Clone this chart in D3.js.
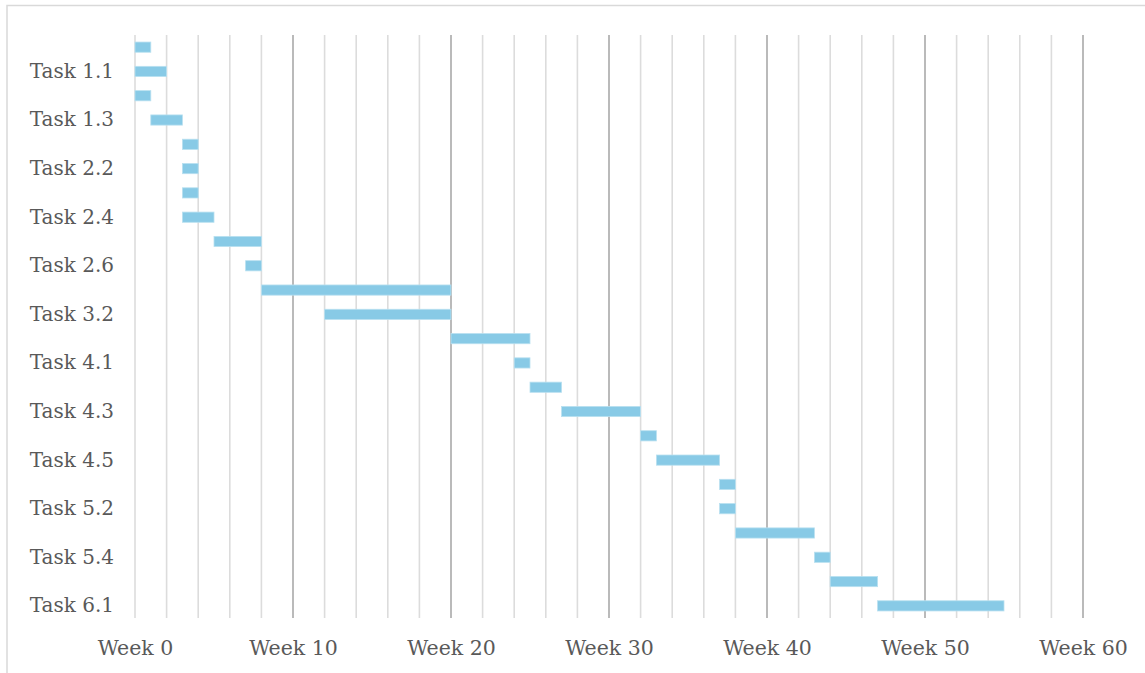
<!DOCTYPE html>
<html>
<head>
<meta charset="utf-8">
<script src="https://cdn.jsdelivr.net/npm/d3@7"></script>
<style>
  html, body { margin: 0; padding: 0; background: #ffffff; }
  svg { display: block; }
</style>
</head>
<body>
<div id="chart"></div>
<script>
// Project schedule: one row per task, bar from start week to end week
const tasks = [
  "Task 1.0", "Task 1.1", "Task 1.2", "Task 1.3",
  "Task 2.1", "Task 2.2", "Task 2.3", "Task 2.4", "Task 2.5", "Task 2.6",
  "Task 3.1", "Task 3.2", "Task 3.3",
  "Task 4.1", "Task 4.2", "Task 4.3", "Task 4.4", "Task 4.5",
  "Task 5.1", "Task 5.2", "Task 5.3", "Task 5.4", "Task 5.5",
  "Task 6.1"
];
const startWeek = [0, 0, 0, 1, 3, 3, 3, 3, 5, 7, 8, 12, 20, 24, 25, 27, 32, 33, 37, 37, 38, 43, 44, 47];
const endWeek   = [1, 2, 1, 3, 4, 4, 4, 5, 8, 8, 20, 20, 25, 25, 27, 32, 33, 37, 38, 38, 43, 44, 47, 55];
const majorTicks = [0, 10, 20, 30, 40, 50, 60];
const minorTicks = d3.range(0, 61, 2);
const tickLabel = w => "Week " + w;

const W = 1145, H = 673;
const plot = { left: 135, right: 1083, top: 35, bottom: 618 };
const font = "'DejaVu Serif', Georgia, serif";
const textColor = "#595959";

const svg = d3.select("#chart").append("svg")
  .attr("width", W).attr("height", H);

// outer frame
svg.append("rect")
  .attr("x", 7).attr("y", 5.5)
  .attr("width", W + 10).attr("height", H + 10)
  .attr("fill", "none").attr("stroke", "#d9d9d9").attr("stroke-width", 1.5);

const x = d3.scaleLinear().domain([0, 60]).range([plot.left, plot.right]);
const y = d3.scaleBand().domain(tasks)
  .range([plot.top, plot.bottom])
  .paddingInner(0.58).paddingOuter(0.29);

// minor gridlines (every 2 weeks) then major (every 10 weeks)
svg.append("g").selectAll("line")
  .data(minorTicks.filter(t => t % 10 !== 0))
  .join("line")
  .attr("x1", d => x(d)).attr("x2", d => x(d))
  .attr("y1", plot.top).attr("y2", plot.bottom)
  .attr("stroke", "#dcdcdc").attr("stroke-width", 1.6);

svg.append("g").selectAll("line")
  .data(majorTicks.filter(t => t !== 0))
  .join("line")
  .attr("x1", d => x(d)).attr("x2", d => x(d))
  .attr("y1", plot.top).attr("y2", plot.bottom)
  .attr("stroke", "#a9a9a9").attr("stroke-width", 1.6);

// week 0 line is drawn light like the minor lines
svg.append("line")
  .attr("x1", x(0)).attr("x2", x(0))
  .attr("y1", plot.top).attr("y2", plot.bottom)
  .attr("stroke", "#dcdcdc").attr("stroke-width", 1.6);

// task bars
svg.append("g").selectAll("rect")
  .data(tasks)
  .join("rect")
  .attr("x", (d, i) => x(startWeek[i]))
  .attr("y", d => y(d))
  .attr("width", (d, i) => x(endWeek[i]) - x(startWeek[i]))
  .attr("height", y.bandwidth())
  .attr("fill", "#88cae6")
  .attr("stroke", "#b9e0f0").attr("stroke-width", 0.8);

// x axis labels
const xAxis = d3.axisBottom(x)
  .tickValues(majorTicks)
  .tickFormat(tickLabel)
  .tickSize(0).tickPadding(0);
const gx = svg.append("g")
  .attr("transform", `translate(0, ${plot.bottom + 21})`)
  .call(xAxis);
gx.select(".domain").remove();
gx.selectAll("text")
  .attr("font-family", font).attr("font-size", 20.5)
  .attr("fill", textColor).attr("dy", "0.76em");

// y axis labels: every other task is labelled
const yAxis = d3.axisLeft(y)
  .tickValues(tasks.filter((d, i) => i % 2 === 1))
  .tickSize(0).tickPadding(21);
const gy = svg.append("g")
  .attr("transform", `translate(${plot.left}, 0)`)
  .call(yAxis);
gy.select(".domain").remove();
gy.selectAll("text")
  .attr("font-family", font).attr("font-size", 20)
  .attr("fill", textColor);
</script>
</body>
</html>
